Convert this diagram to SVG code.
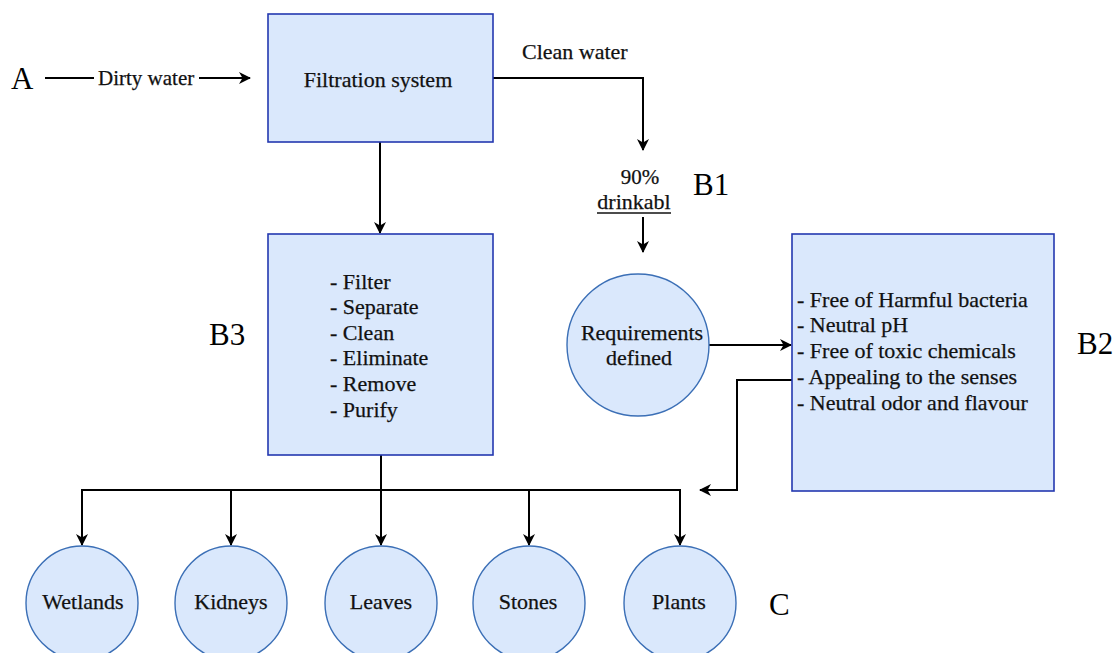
<svg xmlns="http://www.w3.org/2000/svg" width="1118" height="653" viewBox="0 0 1118 653">
<style>
.box{fill:#dae8fc;stroke:#2438b0;stroke-width:1.6}
.circ{fill:#dae8fc;stroke:#3b6fb6;stroke-width:1.4}
.t{font-family:"Liberation Serif","Times New Roman",serif;font-size:22px;fill:#111;stroke:#111;stroke-width:0.25}
.s{font-family:"Liberation Serif","Times New Roman",serif;font-size:21px;fill:#111;stroke:#111;stroke-width:0.25}
.big{font-family:"Liberation Serif","Times New Roman",serif;font-size:31px;fill:#000}
.c{text-anchor:middle}
.ln{fill:none;stroke:#000;stroke-width:2}
</style>
<defs>
<marker id="arr" markerWidth="12" markerHeight="12" refX="11" refY="6" orient="auto" markerUnits="userSpaceOnUse" viewBox="0 0 12 12">
<path d="M0,0 L12,6 L0,12 L3.5,6 Z" fill="#000"/>
</marker>
</defs>
<rect width="1118" height="653" fill="#fff"/>

<g id="connectors">
<line class="ln" x1="45" y1="78" x2="94" y2="78"/>
<line class="ln" x1="199" y1="78" x2="250" y2="78" marker-end="url(#arr)"/>
<polyline class="ln" points="493,78 643,78 643,150" marker-end="url(#arr)"/>
<line class="ln" x1="643" y1="217" x2="643" y2="252" marker-end="url(#arr)"/>
<line class="ln" x1="380" y1="142" x2="380" y2="233" marker-end="url(#arr)"/>
<line class="ln" x1="709" y1="345" x2="791" y2="345" marker-end="url(#arr)"/>
<polyline class="ln" points="792,380 737,380 737,490 700,490" marker-end="url(#arr)"/>
<line class="ln" x1="381" y1="455" x2="381" y2="545" marker-end="url(#arr)"/>
<polyline class="ln" points="82,545 82,490 680,490 680,545" marker-end="url(#arr)"/>
<line class="ln" x1="82" y1="520" x2="82" y2="545" marker-end="url(#arr)"/>
<line class="ln" x1="231" y1="490" x2="231" y2="545" marker-end="url(#arr)"/>
<line class="ln" x1="529" y1="490" x2="529" y2="545" marker-end="url(#arr)"/>
</g>

<g id="labelA"><text class="big" x="11" y="89">A</text></g>
<g id="dirty-water"><text class="s" x="98" y="85">Dirty water</text></g>

<g id="filtration">
<rect class="box" x="268" y="14" width="225" height="128"/>
<text class="t c" x="378" y="87">Filtration system</text>
</g>

<g id="clean-water"><text class="t" x="522" y="59">Clean water</text></g>

<g id="drinkable">
<text class="s c" x="640" y="184">90%</text>
<text class="t c" x="634" y="209">drinkabl</text>
<line x1="597" y1="213" x2="671" y2="213" stroke="#111" stroke-width="1.3"/>
</g>
<g id="labelB1"><text class="big" x="693" y="195">B1</text></g>

<g id="b3">
<rect class="box" x="268" y="234" width="225" height="221"/>
<text class="t" x="330" y="289">- Filter</text>
<text class="t" x="330" y="314">- Separate</text>
<text class="t" x="330" y="340">- Clean</text>
<text class="t" x="330" y="365">- Eliminate</text>
<text class="t" x="330" y="391">- Remove</text>
<text class="t" x="330" y="417">- Purify</text>
</g>
<g id="labelB3"><text class="big" x="209" y="345">B3</text></g>

<g id="requirements">
<circle class="circ" cx="638" cy="345" r="71"/>
<text class="t c" x="642" y="340">Requirements</text>
<text class="t c" x="639" y="365">defined</text>
</g>

<g id="b2">
<rect class="box" x="792" y="234" width="262" height="257"/>
<text class="t" x="797" y="307">- Free of Harmful bacteria</text>
<text class="t" x="797" y="332">- Neutral pH</text>
<text class="t" x="797" y="358">- Free of toxic chemicals</text>
<text class="t" x="797" y="384">- Appealing to the senses</text>
<text class="t" x="797" y="410">- Neutral odor and flavour</text>
</g>
<g id="labelB2"><text class="big" x="1077" y="354">B2</text></g>

<g id="wetlands"><ellipse class="circ" cx="82" cy="603" rx="56" ry="57"/><text class="t c" x="83" y="609">Wetlands</text></g>
<g id="kidneys"><ellipse class="circ" cx="231" cy="603" rx="56" ry="57"/><text class="t c" x="231" y="609">Kidneys</text></g>
<g id="leaves"><ellipse class="circ" cx="381" cy="603" rx="56" ry="57"/><text class="t c" x="381" y="609">Leaves</text></g>
<g id="stones"><ellipse class="circ" cx="529" cy="603" rx="56" ry="57"/><text class="t c" x="528" y="609">Stones</text></g>
<g id="plants"><ellipse class="circ" cx="680" cy="603" rx="56" ry="57"/><text class="t c" x="679" y="609">Plants</text></g>
<g id="labelC"><text class="big" x="769" y="615">C</text></g>
</svg>
